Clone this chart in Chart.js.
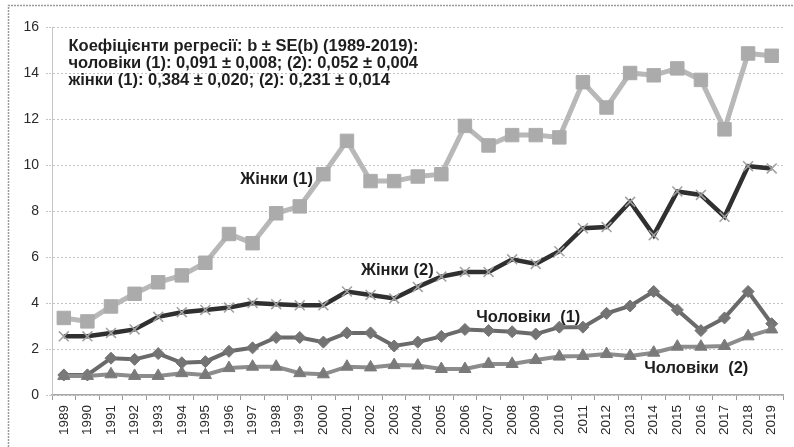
<!DOCTYPE html>
<html>
<head>
  <meta charset="utf-8">
  <title>Коефіцієнти регресії 1989-2019</title>
  <script src="https://cdn.jsdelivr.net/npm/chart.js"></script>
  <style>
    body {
      margin: 0;
      background: #ffffff;
    }
    .wrap {
      width: 794px;
      height: 447px;
    }
  </style>
</head>
<body>
  <div class="wrap"><canvas id="chart"></canvas></div>

  <script>
    // years on the x axis
    const years = ['1989', '1990', '1991', '1992', '1993', '1994', '1995', '1996', '1997', '1998',
      '1999', '2000', '2001', '2002', '2003', '2004', '2005', '2006', '2007', '2008',
      '2009', '2010', '2011', '2012', '2013', '2014', '2015', '2016', '2017', '2018', '2019'];

    // values
    const zhinky1 = [3.35, 3.2, 3.85, 4.4, 4.9, 5.2, 5.75, 7.0, 6.6, 7.9,
      8.2, 9.6, 11.05, 9.3, 9.3, 9.5, 9.6, 11.7, 10.85, 11.3,
      11.3, 11.2, 13.6, 12.5, 14.0, 13.9, 14.2, 13.7, 11.55, 14.85, 14.75];
    const zhinky2 = [2.55, 2.55, 2.7, 2.85, 3.4, 3.6, 3.7, 3.8, 4.0, 3.95,
      3.9, 3.9, 4.5, 4.35, 4.2, 4.7, 5.15, 5.35, 5.35, 5.9,
      5.7, 6.25, 7.25, 7.3, 8.4, 6.95, 8.85, 8.7, 7.75, 9.95, 9.85];
    const cholovik1 = [0.87, 0.87, 1.6, 1.55, 1.8, 1.4, 1.45, 1.9, 2.05, 2.5,
      2.5, 2.3, 2.7, 2.7, 2.13, 2.3, 2.55, 2.85, 2.8, 2.75,
      2.65, 2.95, 2.95, 3.55, 3.87, 4.5, 3.7, 2.8, 3.35, 4.5, 3.1];
    const cholovik2 = [0.83, 0.83, 0.9, 0.83, 0.83, 0.95, 0.87, 1.17, 1.23, 1.23,
      0.95, 0.9, 1.23, 1.2, 1.3, 1.28, 1.13, 1.13, 1.35, 1.35,
      1.52, 1.67, 1.7, 1.78, 1.7, 1.84, 2.1, 2.1, 2.13, 2.55, 2.85];

    const noteLines = [
      'Коефіцієнти регресії: b ± SE(b) (1989-2019):',
      'чоловіки (1): 0,091 ± 0,008; (2): 0,052 ± 0,004',
      'жінки (1): 0,384 ± 0,020; (2): 0,231 ± 0,014'
    ];
    const seriesNames = ['Жінки (1)', 'Жінки (2)', 'Чоловіки  (1)', 'Чоловіки  (2)'];

    // frame of the scanned figure
    const framePlugin = {
      id: 'frame',
      beforeDraw(chart) {
        const ctx = chart.ctx;
        ctx.save();
        ctx.fillStyle = '#ffffff';
        ctx.fillRect(0, 0, chart.width, chart.height);
        ctx.strokeStyle = '#9a9a9a';
        ctx.lineWidth = 1.5;
        ctx.setLineDash([2, 1]);
        ctx.beginPath();
        ctx.moveTo(8.5, chart.height);
        ctx.lineTo(8.5, 5.5);
        ctx.lineTo(chart.width, 5.5);
        ctx.stroke();
        ctx.restore();
      }
    };

    // regression note and the series names written on the plot
    const textPlugin = {
      id: 'texts',
      afterDatasetsDraw(chart) {
        const ctx = chart.ctx;
        const x = chart.scales.x;
        const y = chart.scales.y;
        ctx.save();
        ctx.fillStyle = '#1e1e1e';
        ctx.textBaseline = 'middle';
        ctx.textAlign = 'left';

        ctx.font = 'bold 16.5px "Liberation Sans", Arial, sans-serif';
        const noteX = x.getPixelForValue(0.2);
        noteLines.forEach((line, i) => {
          ctx.fillText(line, noteX, y.getPixelForValue(15.17 - i * 0.74));
        });

        ctx.font = 'bold 16.5px "Liberation Sans", Arial, sans-serif';
        const spots = [[7.48, 9.35], [12.6, 5.43], [17.48, 3.39], [24.6, 1.17]];
        seriesNames.forEach((name, i) => {
          ctx.fillText(name, x.getPixelForValue(spots[i][0]), y.getPixelForValue(spots[i][1]));
        });
        ctx.restore();
      }
    };

    const ctx = document.getElementById('chart').getContext('2d');
    const chart = new Chart(ctx, {
      type: 'line',
      data: {
        labels: years,
        datasets: [
          {
            label: 'Чоловіки (2)',
            data: cholovik2,
            borderColor: '#8c8c8c',
            borderWidth: 4,
            pointStyle: 'triangle',
            pointRadius: 7,
            pointBackgroundColor: '#7a7a7a',
            pointBorderColor: '#7a7a7a',
            pointBorderWidth: 1,
            tension: 0
          },
          {
            label: 'Чоловіки (1)',
            data: cholovik1,
            borderColor: '#6a6a6a',
            borderWidth: 4,
            pointStyle: 'rectRot',
            pointRadius: 6,
            pointBackgroundColor: '#747474',
            pointBorderColor: '#747474',
            pointBorderWidth: 1,
            tension: 0
          },
          {
            label: 'Жінки (2)',
            data: zhinky2,
            borderColor: '#303030',
            borderWidth: 4.5,
            pointStyle: 'crossRot',
            pointRadius: 7,
            pointBorderColor: '#a0a0a0',
            pointBorderWidth: 1.5,
            tension: 0
          },
          {
            label: 'Жінки (1)',
            data: zhinky1,
            borderColor: '#b8b8b8',
            borderWidth: 5,
            pointStyle: 'rect',
            pointRadius: 9.5,
            pointBackgroundColor: '#ababab',
            pointBorderColor: '#ababab',
            pointBorderWidth: 1,
            tension: 0
          }
        ]
      },
      options: {
        responsive: true,
        maintainAspectRatio: false,
        animation: false,
        layout: {
          padding: { top: 27, left: 10, right: 7, bottom: 0 }
        },
        plugins: {
          legend: { display: false },
          tooltip: { enabled: false }
        },
        scales: {
          x: {
            offset: true,
            grid: {
              offset: true,
              drawOnChartArea: false,
              drawTicks: true,
              tickLength: 5,
              color: '#9a9a9a'
            },
            border: {
              color: '#a8a8a8',
              width: 1.5,
              dash: [2, 1]
            },
            ticks: {
              autoSkip: false,
              minRotation: 90,
              maxRotation: 90,
              padding: 5,
              color: '#2a2a2a',
              font: { family: '"Liberation Sans", Arial, sans-serif', size: 13.5 }
            },
            afterFit(scale) {
              scale.height = 52;
            }
          },
          y: {
            min: 0,
            max: 16,
            ticks: {
              stepSize: 2,
              padding: 7,
              color: '#2a2a2a',
              font: { family: '"Liberation Sans", Arial, sans-serif', size: 14 }
            },
            grid: {
              color: '#c4c4c4',
              lineWidth: 1,
              tickLength: 6,
              tickBorderDash: [2, 1]
            },
            border: {
              color: '#c4c4c4',
              dash: [2, 2]
            },
            afterFit(scale) {
              scale.width = 42;
            }
          }
        }
      },
      plugins: [framePlugin, textPlugin]
    });
  </script>
</body>
</html>
